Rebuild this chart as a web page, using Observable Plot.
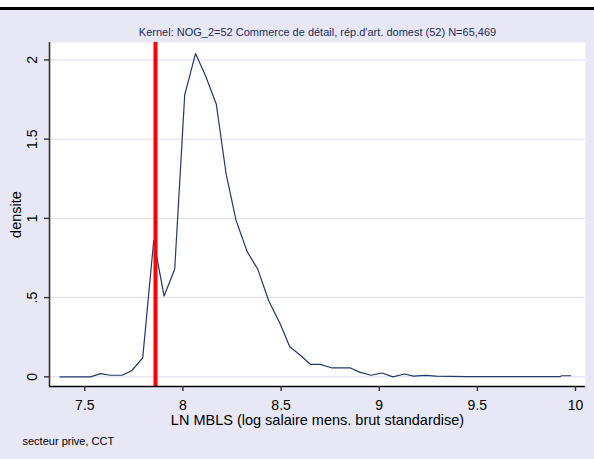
<!DOCTYPE html>
<html>
<head>
<meta charset="utf-8">
<script src="https://cdn.jsdelivr.net/npm/d3@7"></script>
<script src="https://cdn.jsdelivr.net/npm/@observablehq/plot@0.6"></script>
<style>
  body { margin: 0; background: #ffffff; }
  #wrap { position: relative; width: 594px; height: 459px; overflow: hidden; }
  #topwhite { position: absolute; left: 0; top: 0; width: 594px; height: 7px; background: #ffffff; }
  #topbar { position: absolute; left: 0; top: 7px; width: 594px; height: 3px; background: #000000; }
  svg { display: block; }
</style>
</head>
<body>
<div id="wrap"><div id="chart"></div><div id="topwhite"></div><div id="topbar"></div></div>
<script>
const titleText = "Kernel: NOG_2=52 Commerce de détail, rép.d'art. domest (52) N=65,469";
const xLabel = "LN MBLS (log salaire mens. brut standardise)";
const yLabel = "densite";
const captionText = "secteur prive, CCT";

const xValues = [7.373, 7.529, 7.58, 7.63, 7.69, 7.74, 7.795, 7.851, 7.904, 7.958, 8.009, 8.064, 8.115, 8.17, 8.22, 8.27, 8.327, 8.381, 8.437, 8.497, 8.544, 8.598, 8.649, 8.70, 8.76, 8.853, 8.90, 8.958, 9.014, 9.07, 9.128, 9.175, 9.235, 9.29, 9.447, 9.92, 9.93, 9.976];
const densities = [0.0, 0.0, 0.02, 0.01, 0.01, 0.04, 0.12, 0.86, 0.51, 0.68, 1.78, 2.04, 1.90, 1.72, 1.28, 0.99, 0.79, 0.68, 0.48, 0.33, 0.19, 0.136, 0.079, 0.079, 0.056, 0.056, 0.03, 0.01, 0.024, 0.0, 0.018, 0.005, 0.009, 0.005, 0.001, 0.001, 0.007, 0.007];
const refLine = [7.86];

const xTicks = [7.5, 8, 8.5, 9, 9.5, 10];
const xTickLabels = ["7.5", "8", "8.5", "9", "9.5", "10"];
const yTicks = [0, 0.5, 1, 1.5, 2];
const yTickLabels = ["0", ".5", "1", "1.5", "2"];
const xDomain = [7.32, 10.051];
const yDomain = [-0.061, 2.11];

const data = xValues.map((x, i) => ({x, y: densities[i]}));
const font = "'Liberation Sans', Arial, sans-serif";

const chart = Plot.plot({
  width: 594,
  height: 459,
  marginTop: 42,
  marginBottom: 73,
  marginLeft: 49,
  marginRight: 9,
  style: { background: "#e7e7f5", fontFamily: font, color: "#000" },
  x: { domain: xDomain },
  y: { domain: yDomain },
  marks: [
    Plot.frame({ fill: "#ffffff", stroke: "none" }),
    Plot.gridY(yTicks, { stroke: "#dcdcef", strokeOpacity: 1, strokeWidth: 1 }),
    Plot.line(data, { x: "x", y: "y", stroke: "#1f3a6b", strokeWidth: 1.2 }),
    Plot.ruleX(refLine, { stroke: "#ff0000", strokeWidth: 4 }),
    Plot.ruleX([xDomain[0]], { stroke: "#333333", strokeWidth: 1.6 }),
    Plot.ruleY([yDomain[0]], { stroke: "#000000", strokeWidth: 1.6 }),
    Plot.axisX({ ticks: xTicks, tickFormat: (d, i) => xTickLabels[xTicks.indexOf(d)], tickSize: 5, tickPadding: 9, fontSize: 14, stroke: "#333", strokeWidth: 1.4, label: null }),
    Plot.axisY({ ticks: yTicks, tickFormat: d => yTickLabels[yTicks.indexOf(d)], tickSize: 5, tickPadding: 8, tickRotate: -90, fontSize: 14, stroke: "#333", strokeWidth: 1.4, label: null }),
    Plot.text([titleText], { frameAnchor: "top", dy: -10, lineAnchor: "middle", fontSize: 11, fill: "#1c2d5a" }),
    Plot.text([xLabel], { frameAnchor: "bottom", dy: 34, lineAnchor: "middle", fontSize: 14.5, fill: "#000" }),
    Plot.text([yLabel], { frameAnchor: "left", dx: -29, rotate: -90, lineAnchor: "bottom", textAnchor: "middle", fontSize: 14.5, fill: "#000" }),
    Plot.text([captionText], { frameAnchor: "bottom-left", dx: -27, dy: 55, textAnchor: "start", lineAnchor: "middle", fontSize: 11, fill: "#000" })
  ]
});
document.getElementById("chart").appendChild(chart);
</script>
</body>
</html>
